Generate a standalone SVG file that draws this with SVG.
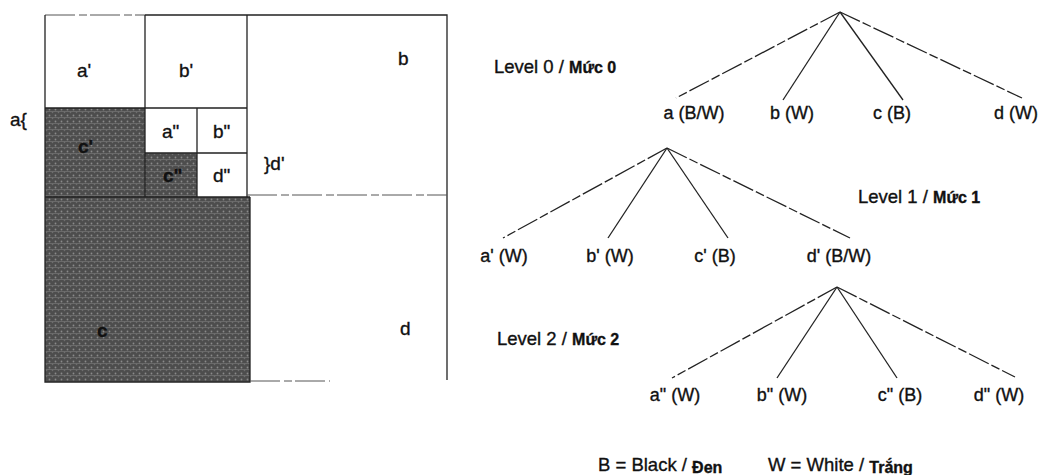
<svg xmlns="http://www.w3.org/2000/svg" width="1045" height="475" viewBox="0 0 1045 475">
<style>
text{font-family:"Liberation Sans",Arial,sans-serif;fill:#111;stroke:#111;stroke-width:0.35}
.g{font-size:19px}
.lbl{font-size:18px;text-anchor:middle}
.lv{font-size:18.5px}
.vn{font-weight:bold;font-size:16px}
.grid{stroke:#222;stroke-width:1.3;fill:none}
.faint{stroke:#555;stroke-width:1;fill:none;stroke-dasharray:30 4 8 3}
.edge{stroke:#222;stroke-width:1.3;fill:none}
.edged{stroke:#222;stroke-width:1.3;fill:none;stroke-dasharray:22 3 9 3}
</style>
<defs>
<pattern id="shade" width="6" height="6" patternUnits="userSpaceOnUse">
<rect width="6" height="6" fill="#4d4d4d"/>
<circle cx="1.5" cy="1.5" r="0.9" fill="#8a8a8a"/>
<circle cx="4.5" cy="4.5" r="0.8" fill="#6e6e6e"/>
<rect x="0" y="3" width="6" height="0.7" fill="#777"/>
</pattern>
</defs>
<rect width="1045" height="475" fill="#fff"/>

<g id="quadrant">
<rect x="45" y="108" width="100" height="89" fill="url(#shade)"/>
<rect x="145" y="153" width="52" height="44" fill="url(#shade)"/>
<rect x="45" y="197" width="205" height="185" fill="url(#shade)"/>
<path class="faint" d="M45 15 H145"/>
<path class="grid" d="M145 15 H247 M247 15 H447 V380"/>
<path class="grid" d="M45 15 V382 H250 V197"/>
<path class="grid" d="M145 15 V197 M247 15 V197"/>
<path class="grid" d="M45 108 H247 M145 153 H247 M197 108 V197"/>
<path class="grid" stroke-width="2" d="M45 197 H250"/>
<path class="faint" d="M247 195 H447 M250 381 H330"/>
<text class="g" x="77" y="77">a'</text>
<text class="g" x="179" y="77">b'</text>
<text class="g" x="398" y="65">b</text>
<text class="g" x="10" y="126">a{</text>
<text class="g" x="162" y="138">a"</text>
<text class="g" x="213" y="138">b"</text>
<text class="g" x="78" y="153" font-weight="bold">c'</text>
<text class="g" x="163" y="182" font-weight="bold">c"</text>
<text class="g" x="213" y="182">d"</text>
<text class="g" x="264" y="170">}d'</text>
<text class="g" x="97" y="337" font-weight="bold">c</text>
<text class="g" x="400" y="335">d</text>
</g>

<g id="connectors">
<path class="edged" d="M840 12 L676 98"/>
<path class="edge" d="M840 12 L783 100"/>
<path class="edge" d="M840 12 L903 100"/>
<path class="edged" d="M840 12 L1022 98"/>
<path class="edged" d="M667 148 L503 238"/>
<path class="edge" d="M667 148 L608 238"/>
<path class="edge" d="M667 148 L728 238"/>
<path class="edged" d="M667 148 L850 238"/>
<path class="edged" d="M837 287 L672 378"/>
<path class="edge" d="M837 287 L777 378"/>
<path class="edge" d="M837 287 L897 378"/>
<path class="edged" d="M837 287 L1015 377"/>
</g>

<g id="level0">
<text class="lv" x="494" y="73">Level 0 / <tspan class="vn">Mức 0</tspan></text>
<text class="lbl" x="694" y="119">a (B/W)</text>
<text class="lbl" x="792" y="119">b (W)</text>
<text class="lbl" x="892" y="119">c (B)</text>
<text class="lbl" x="1016" y="119">d (W)</text>
</g>

<g id="level1">
<text class="lv" x="858" y="203">Level 1 /  <tspan class="vn">Mức 1</tspan></text>
<text class="lbl" x="504" y="262">a' (W)</text>
<text class="lbl" x="610" y="262">b' (W)</text>
<text class="lbl" x="715" y="262">c' (B)</text>
<text class="lbl" x="839" y="262">d' (B/W)</text>
</g>

<g id="level2">
<text class="lv" x="497" y="345">Level 2 / <tspan class="vn" font-size="15">Mức 2</tspan></text>
<text class="lbl" x="675" y="401">a" (W)</text>
<text class="lbl" x="782" y="401">b" (W)</text>
<text class="lbl" x="900" y="401">c" (B)</text>
<text class="lbl" x="999" y="401">d" (W)</text>
</g>

<g id="legend">
<text class="lv" x="598" y="471">B = Black /  <tspan class="vn" font-size="15" dy="2">Đen</tspan></text>
<text class="lv" x="768" y="471">W = White /  <tspan class="vn" font-size="15" dy="2">Trắng</tspan></text>
</g>
</svg>
